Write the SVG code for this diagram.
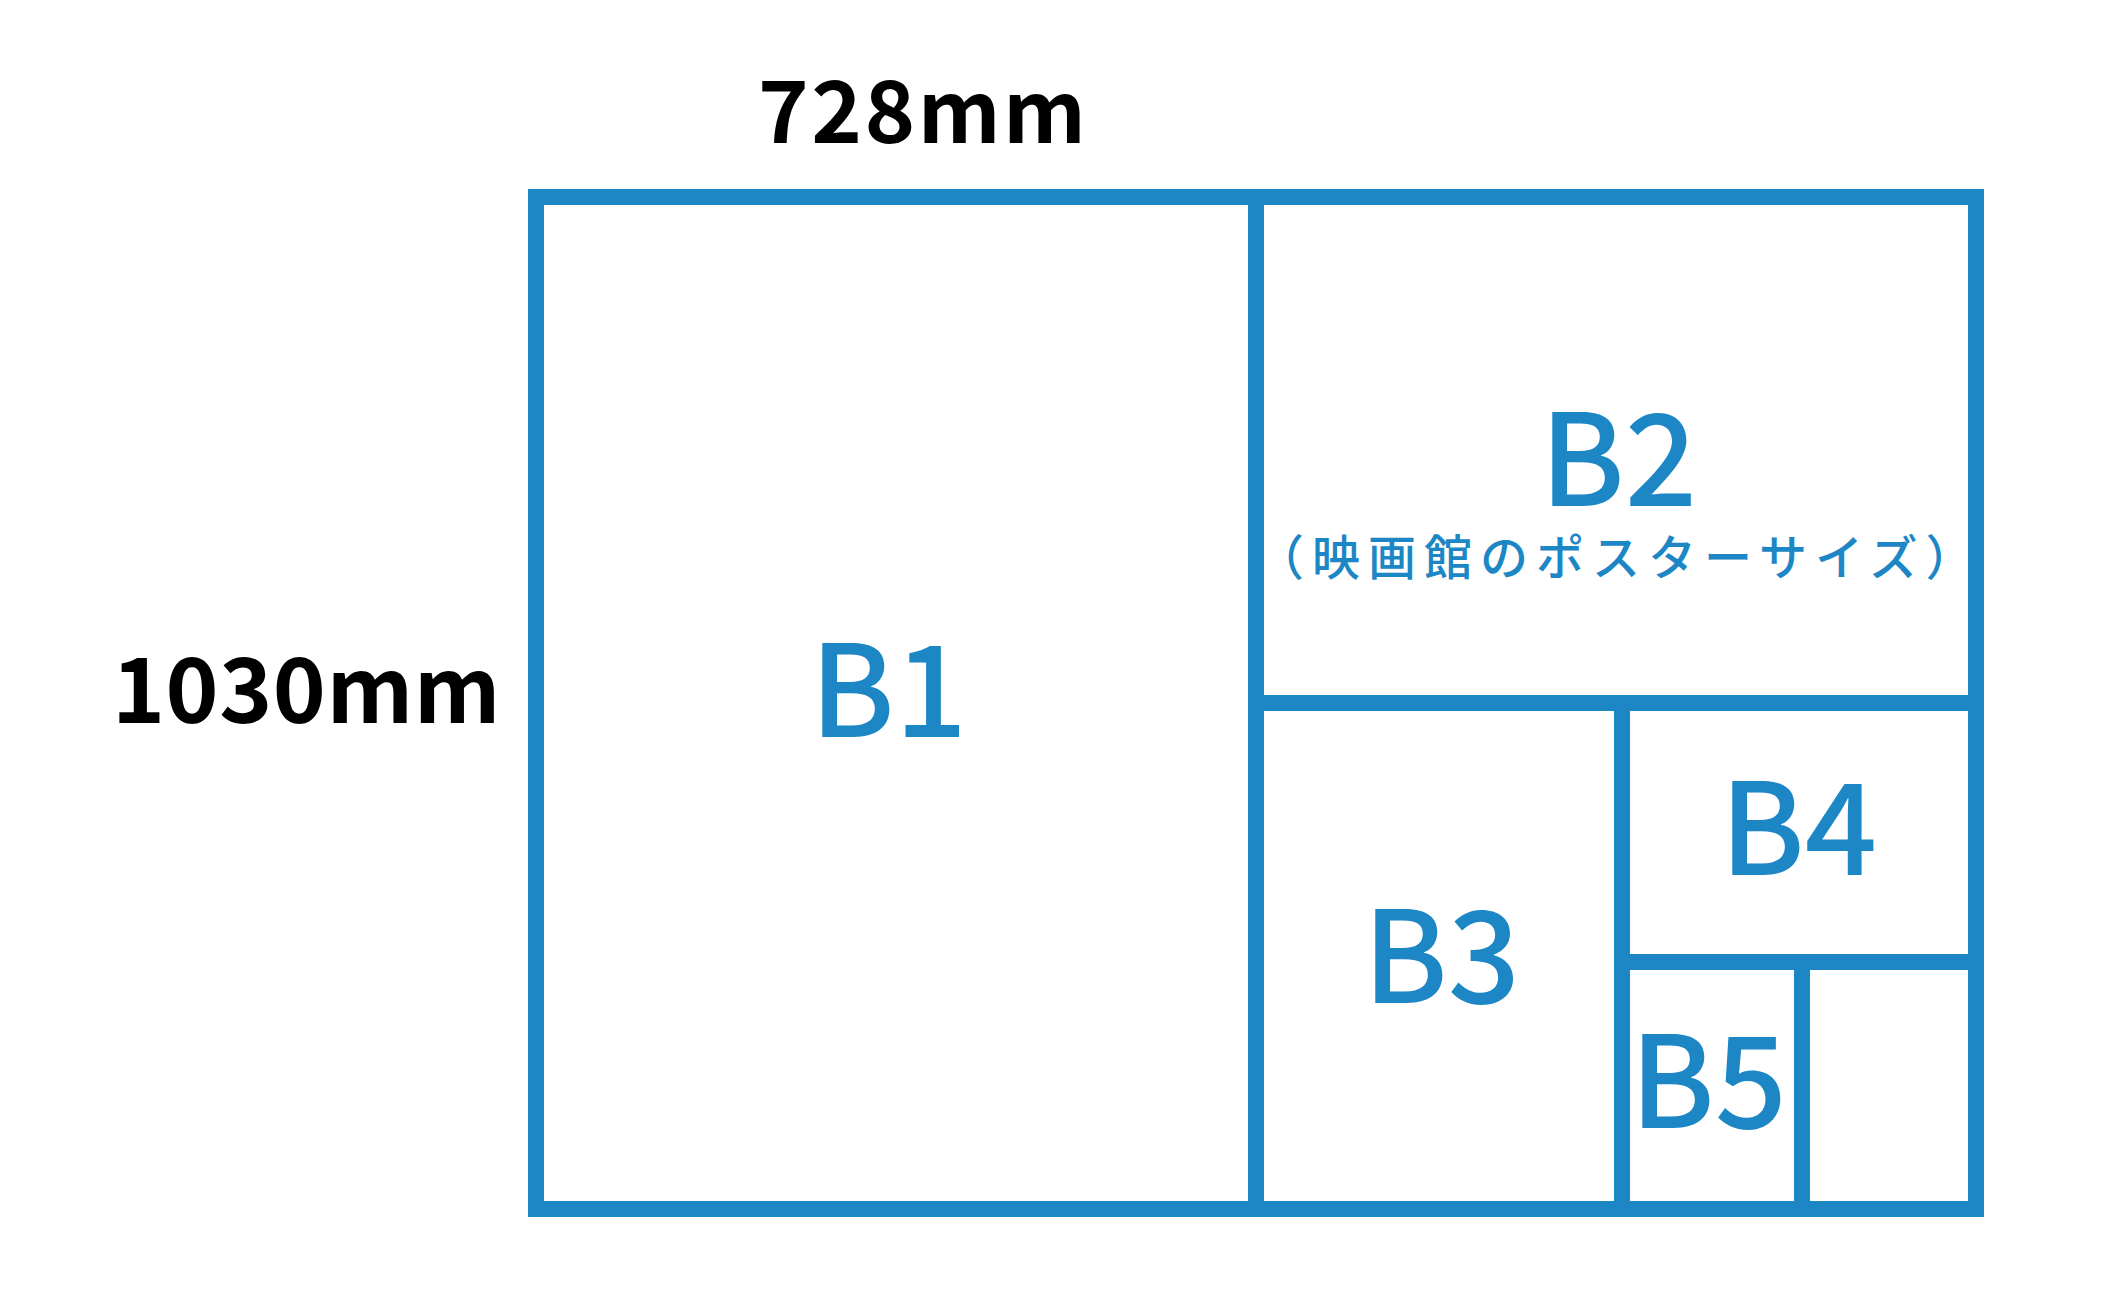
<svg xmlns="http://www.w3.org/2000/svg" width="2101" height="1296" viewBox="0 0 2101 1296">
<style>
.ln{stroke:#1d87c6;stroke-width:16;fill:none;stroke-linecap:butt}
.dim{font-family:"Noto Sans CJK JP","Noto Sans",sans-serif;font-weight:700;fill:#000}
.lbl{font-family:"Noto Sans CJK JP","Noto Sans",sans-serif;font-weight:500;fill:#1d87c6;font-size:127px}
.sub{font-family:"Noto Sans CJK JP",sans-serif;font-weight:500;fill:#1d87c6;font-size:48px;letter-spacing:8px}
</style>
<rect width="2101" height="1296" fill="#fff"/>
<g id="frame">
<rect class="ln" x="536" y="197" width="1440" height="1012"/>
<line class="ln" x1="1256" y1="205" x2="1256" y2="1201"/>
<line class="ln" x1="1264" y1="703" x2="1968" y2="703"/>
<line class="ln" x1="1622" y1="711" x2="1622" y2="1201"/>
<line class="ln" x1="1630" y1="962" x2="1968" y2="962"/>
<line class="ln" x1="1802" y1="970" x2="1802" y2="1201"/>
</g>
<g id="dims">
<text class="dim" x="758" y="143" font-size="86" letter-spacing="2.5">728mm</text>
<text class="dim" x="112" y="723" font-size="90" letter-spacing="0.5">1030mm</text>
</g>
<g id="B1"><text class="lbl" x="810" y="737">B1</text></g>
<g id="B2"><text class="lbl" x="1540" y="506">B2</text>
<text class="sub" x="1256" y="575">（映画館のポスターサイズ）</text></g>
<g id="B3"><text class="lbl" x="1363" y="1003">B3</text></g>
<g id="B4"><text class="lbl" x="1720" y="875">B4</text></g>
<g id="B5"><text class="lbl" x="1630" y="1128">B5</text></g>
</svg>
